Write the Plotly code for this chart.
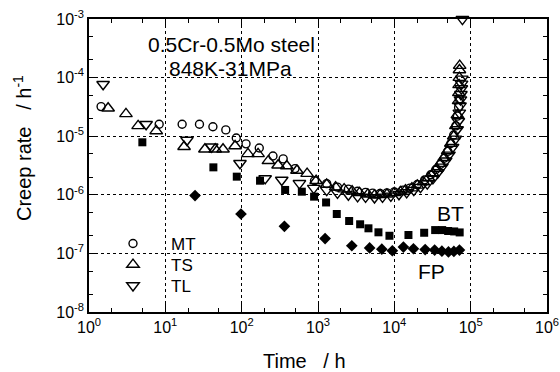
import plotly.graph_objects as go

# ---------------- data ----------------
mt_t = [1.44, 8.3, 16.6, 28, 42, 62, 85, 114, 170, 257, 350, 500, 900, 1300, 1800, 2500,
        3300, 4200, 5200, 6500, 8000, 10000, 13000, 16000, 20000, 25000, 30000, 35000,
        40000, 45000, 50000, 55000, 60000, 64000, 67000, 69500, 71000]
mt_r = [3.2e-5, 1.6e-5, 1.6e-5, 1.6e-5, 1.45e-5, 1.28e-5, 9.3e-6, 7.4e-6, 6.3e-6, 4.6e-6,
        4.1e-6, 2.8e-6, 1.74e-6, 1.55e-6, 1.35e-6, 1.25e-6, 1.15e-6, 1.1e-6, 1.07e-6,
        1.05e-6, 1.08e-6, 1.12e-6, 1.2e-6, 1.3e-6, 1.5e-6, 1.8e-6, 2.2e-6, 2.7e-6, 3.3e-6,
        4.2e-6, 5.5e-6, 7.5e-6, 1.05e-5, 1.5e-5, 2.2e-5, 3.1e-5, 4.3e-5]

ts_t = [1.78, 3.05, 4.4, 7.6, 17.6, 33, 45, 57, 82, 121, 164, 224, 300, 390, 530, 720, 945,
        1300, 1700, 2200, 2800, 3500, 4500, 5500, 6500, 8000, 10000, 12000, 14000, 17000,
        20000, 24000, 28000, 32000, 36000, 40000, 45000, 50000, 55000, 60000, 64000, 67000,
        69500, 70000, 70500, 71000, 71300, 71800]
ts_r = [3.0e-5, 2.4e-5, 1.5e-5, 1.23e-5, 6.6e-6, 6.0e-6, 6.0e-6, 6.0e-6, 6.8e-6, 5.0e-6,
        5.0e-6, 3.8e-6, 3.2e-6, 3.1e-6, 2.6e-6, 2.3e-6, 1.74e-6, 1.5e-6, 1.35e-6, 1.25e-6,
        1.15e-6, 1.08e-6, 1.02e-6, 0.98e-6, 1.0e-6, 1.02e-6, 1.08e-6, 1.12e-6, 1.2e-6,
        1.3e-6, 1.45e-6, 1.65e-6, 1.95e-6, 2.3e-6, 2.8e-6, 3.4e-6, 4.3e-6, 5.6e-6, 7.5e-6,
        1.0e-5, 1.5e-5, 2.3e-5, 4.0e-5, 5.5e-5, 7.5e-5, 1.0e-4, 1.35e-4, 1.6e-4]

tl_t = [1.53, 5.6, 19.2, 40.5, 95, 203, 335, 571, 880, 1300, 1800, 2500, 3300, 4200, 5500,
        7000, 9000, 11500, 14500, 18000, 22000, 27000, 32000, 37000, 42000, 47000, 52000,
        58000, 63000, 66500, 69000, 71000, 72500, 73500, 74500, 75500, 76000, 76500, 78000]
tl_r = [7.7e-5, 1.6e-5, 8.6e-6, 6.6e-6, 3.45e-6, 1.9e-6, 1.79e-6, 1.57e-6, 1.3e-6, 1.2e-6,
        1.08e-6, 1.0e-6, 9.4e-7, 9.2e-7, 9.0e-7, 9.2e-7, 9.6e-7, 1.02e-6, 1.1e-6, 1.2e-6,
        1.35e-6, 1.55e-6, 1.9e-6, 2.4e-6, 3.0e-6, 3.8e-6, 4.8e-6, 6.5e-6, 9e-6, 1.3e-5,
        1.8e-5, 2.5e-5, 3.3e-5, 4.2e-5, 5.2e-5, 6.5e-5, 7.8e-5, 9.5e-5, 9.95e-4]

bt_t = [5.0, 42.6, 86.3, 174, 371, 614, 889, 1276, 1762, 2559, 3565, 4581, 6194, 8630,
        15310, 24600, 34280, 42360, 50700, 60800, 71800]
bt_r = [7.87e-6, 2.94e-6, 2.04e-6, 1.74e-6, 1.21e-6, 1.13e-6, 9.3e-7, 7.4e-7, 4.7e-7,
        3.57e-7, 3.14e-7, 2.68e-7, 2.29e-7, 2.0e-7, 2.06e-7, 2.25e-7, 2.5e-7, 2.5e-7,
        2.41e-7, 2.37e-7, 2.28e-7]

fp_t = [24.5, 98, 363, 1239, 2773, 4745, 6855, 9420, 13150, 17800, 25350, 33730, 41980,
        51170, 60260, 71300]
fp_r = [9.7e-7, 4.7e-7, 2.9e-7, 1.79e-7, 1.35e-7, 1.24e-7, 1.18e-7, 1.11e-7, 1.28e-7,
        1.2e-7, 1.16e-7, 1.14e-7, 1.09e-7, 1.06e-7, 1.08e-7, 1.14e-7]

x_tickvals = [1, 10, 100, 1000, 1e4, 1e5, 1e6]
x_ticktext = ["10<sup>0</sup>", "10<sup>1</sup>", "10<sup>2</sup>", "10<sup>3</sup>",
              "10<sup>4</sup>", "10<sup>5</sup>", "10<sup>6</sup>"]
y_tickvals = [1e-8, 1e-7, 1e-6, 1e-5, 1e-4, 1e-3]
y_ticktext = ["10<sup>-8</sup>", "10<sup>-7</sup>", "10<sup>-6</sup>", "10<sup>-5</sup>",
              "10<sup>-4</sup>", "10<sup>-3</sup>"]

FONT = "Liberation Sans, Arial, sans-serif"

# plot-area pixel box (used to place texts and legends)
L, R, T, B = 89, 547, 19, 312
def px2paper(px, py):
    return (px - L) / (R - L), (B - py) / (B - T)

fig = go.Figure()
open_line = dict(color="black", width=1.4)
fig.add_trace(go.Scatter(x=bt_t, y=bt_r, mode="markers", showlegend=False,
                         marker=dict(symbol="square", size=8, color="black")))
fig.add_trace(go.Scatter(x=fp_t, y=fp_r, mode="markers", showlegend=False,
                         marker=dict(symbol="diamond", size=9, color="black")))
fig.add_trace(go.Scatter(x=mt_t, y=mt_r, mode="markers", name="MT", legend="legend",
                         marker=dict(symbol="circle-open", size=8, color="black", line=open_line)))
fig.add_trace(go.Scatter(x=ts_t, y=ts_r, mode="markers", name="TS", legend="legend2",
                         marker=dict(symbol="triangle-up-open", size=11, color="black", line=open_line)))
fig.add_trace(go.Scatter(x=tl_t, y=tl_r, mode="markers", name="TL", legend="legend3", cliponaxis=False,
                         marker=dict(symbol="triangle-down-open", size=11, color="black", line=open_line)))

axis_common = dict(
    type="log", showline=True, linecolor="black", linewidth=1.6, mirror="allticks",
    ticks="inside", ticklen=8, tickwidth=1, tickcolor="black",
    showgrid=True, gridcolor="black", griddash="dot", gridwidth=1,
    zeroline=False, automargin=False,
    tickfont=dict(family=FONT, size=16, color="black"),
    minor=dict(ticks="inside", ticklen=4, tickcolor="black", showgrid=False),
)
fig.update_xaxes(range=[0, 6], tickvals=x_tickvals, ticktext=x_ticktext, **axis_common)
fig.update_yaxes(range=[-8, -3], tickvals=y_tickvals, ticktext=y_ticktext, **axis_common)

def legend_at(py):
    lx, ly = px2paper(95, py)
    return dict(x=lx, y=ly, xanchor="left", yanchor="middle", bgcolor="rgba(0,0,0,0)",
                font=dict(family=FONT, size=17, color="black"), itemwidth=66)

texts = [
    ("0.5Cr-0.5Mo steel", 231, 44, 21, 0),
    ("848K-31MPa", 230, 68, 21, 0),
    ("BT", 450, 213, 21, 0),
    ("FP", 431, 271, 21, 0),
    ("Time   / h", 304, 361, 20, 0),
    ("Creep rate   / h<sup>-1</sup>", 22, 148, 20, -90),
]
annotations = []
for txt, px, py, size, ang in texts:
    ax, ay = px2paper(px, py)
    annotations.append(dict(text=txt, x=ax, y=ay, xref="paper", yref="paper",
                            xanchor="center", yanchor="middle", textangle=ang,
                            showarrow=False, font=dict(size=size, family=FONT, color="black")))

fig.update_layout(
    width=560, height=372,
    margin=dict(l=L, r=560 - R, t=T, b=372 - B),
    paper_bgcolor="white", plot_bgcolor="white",
    font=dict(family=FONT, color="black"),
    showlegend=True,
    legend=legend_at(244),
    legend2=legend_at(265),
    legend3=legend_at(286),
    annotations=annotations,
)

fig.write_html("out.html")
